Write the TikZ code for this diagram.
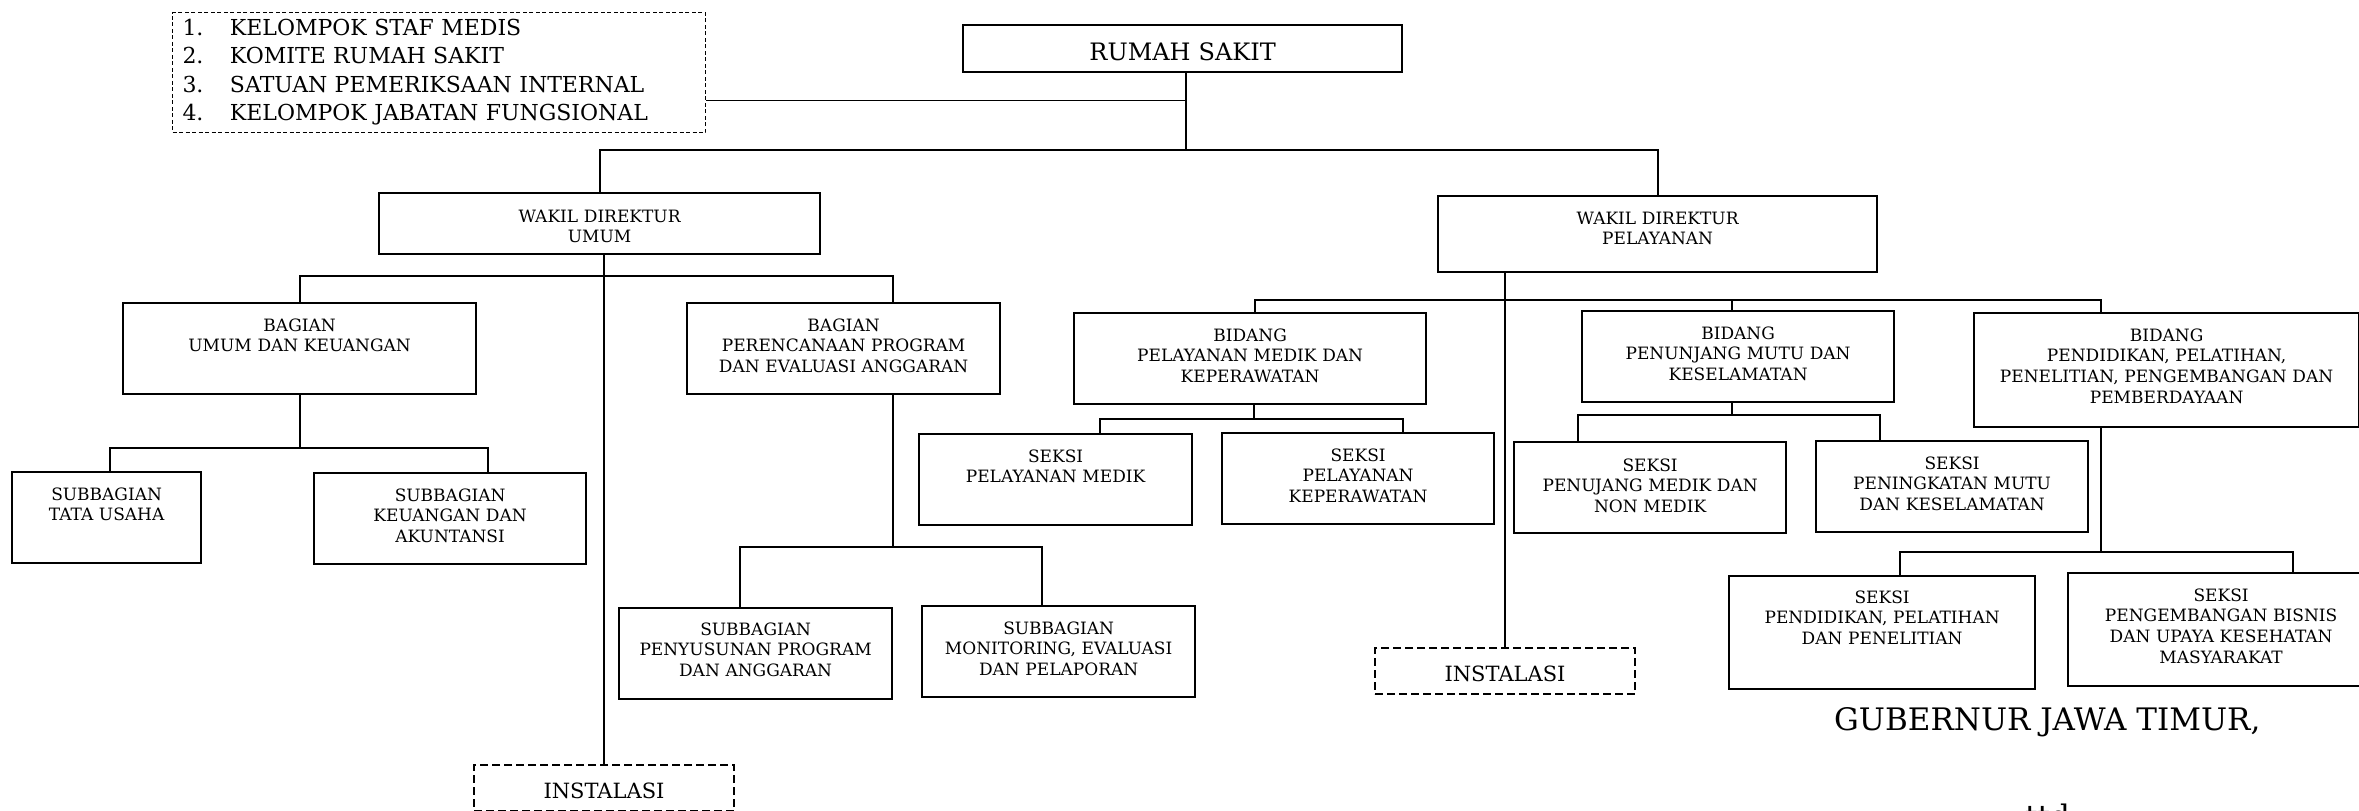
\documentclass[tikz,border=0pt]{standalone}
\usepackage{fontspec}
\setmainfont{DejaVu Serif}
\usepackage{tikz}

\begin{document}
\begin{tikzpicture}[x=1pt,y=-1pt,
  unitbox/.style={draw,line width=2.2pt,anchor=north west,align=center,inner sep=0pt,font=\fontsize{17}{20.7}\selectfont},
  instbox/.style={draw,dash pattern=on 8pt off 4pt,line width=2pt,anchor=north west,align=center,inner sep=0pt,font=\fontsize{21}{25}\selectfont,text width=260pt,text height=33pt,text depth=13pt},
  conn/.style={line width=1.8pt},
  thinconn/.style={line width=1.1pt}]
\useasboundingbox (0,0) rectangle (2359,811);
% top level
\node[draw,dash pattern=on 4pt off 2.5pt,line width=1pt,anchor=north west,align=left,inner xsep=10pt,inner ysep=0pt,text width=513pt,text height=23pt,text depth=97pt,font=\fontsize{22}{28.3}\selectfont] (legend) at (172,12) {\makebox[47.5pt][l]{1.}KELOMPOK STAF MEDIS\\\makebox[47.5pt][l]{2.}KOMITE RUMAH SAKIT\\\makebox[47.5pt][l]{3.}SATUAN PEMERIKSAAN INTERNAL\\\makebox[47.5pt][l]{4.}KELOMPOK JABATAN FUNGSIONAL};
\node[unitbox,text width=439pt,text height=35pt,text depth=12pt,font=\fontsize{24}{28}\selectfont] (rs) at (962,24) {RUMAH SAKIT};
\node[unitbox,text width=441pt,text height=29pt,text depth=32pt] (wdu) at (378,192) {WAKIL DIREKTUR\\UMUM};
\node[unitbox,text width=439pt,text height=28pt,text depth=48pt] (wdp) at (1437,195) {WAKIL DIREKTUR\\PELAYANAN};
% wakil direktur umum
\node[unitbox,text width=353pt,text height=28pt,text depth=63pt] (buk) at (122,302) {BAGIAN\\UMUM DAN KEUANGAN};
\node[unitbox,text width=313pt,text height=28pt,text depth=63pt] (bpp) at (686,302) {BAGIAN\\PERENCANAAN PROGRAM\\DAN EVALUASI ANGGARAN};
\node[unitbox,text width=189pt,text height=28pt,text depth=63pt] (stu) at (11,471) {SUBBAGIAN\\TATA USAHA};
\node[unitbox,text width=272pt,text height=28pt,text depth=63pt] (ska) at (313,472) {SUBBAGIAN\\KEUANGAN DAN\\AKUNTANSI};
\node[unitbox,text width=273pt,text height=27pt,text depth=64pt] (spa) at (618,607) {SUBBAGIAN\\PENYUSUNAN PROGRAM\\DAN ANGGARAN};
\node[unitbox,text width=273pt,text height=28pt,text depth=63pt] (smo) at (921,605) {SUBBAGIAN\\MONITORING, EVALUASI\\DAN PELAPORAN};
\node[instbox] (ins1) at (473,764) {INSTALASI};
% wakil direktur pelayanan
\node[unitbox,text width=352pt,text height=28pt,text depth=63pt] (bpmk) at (1073,312) {BIDANG\\PELAYANAN MEDIK DAN\\KEPERAWATAN};
\node[unitbox,text width=312pt,text height=28pt,text depth=63pt] (bpm) at (1581,310) {BIDANG\\PENUNJANG MUTU DAN\\KESELAMATAN};
\node[unitbox,text width=385pt,text height=28pt,text depth=86pt] (bpen) at (1973,312) {BIDANG\\PENDIDIKAN, PELATIHAN,\\PENELITIAN, PENGEMBANGAN DAN\\PEMBERDAYAAN};
\node[unitbox,text width=273pt,text height=28pt,text depth=63pt] (spm) at (918,433) {SEKSI\\PELAYANAN MEDIK};
\node[unitbox,text width=272pt,text height=28pt,text depth=63pt] (spk) at (1221,432) {SEKSI\\PELAYANAN\\KEPERAWATAN};
\node[unitbox,text width=272pt,text height=29pt,text depth=62pt] (spnm) at (1513,441) {SEKSI\\PENUJANG MEDIK DAN\\NON MEDIK};
\node[unitbox,text width=272pt,text height=28pt,text depth=63pt] (spmk) at (1815,440) {SEKSI\\PENINGKATAN MUTU\\DAN KESELAMATAN};
\node[unitbox,text width=306pt,text height=27pt,text depth=86pt] (sppp) at (1728,575) {SEKSI\\PENDIDIKAN, PELATIHAN\\DAN PENELITIAN};
\node[unitbox,text width=306pt,text height=28pt,text depth=85pt] (spbu) at (2067,572) {SEKSI\\PENGEMBANGAN BISNIS\\DAN UPAYA KESEHATAN\\MASYARAKAT};
\node[instbox] (ins2) at (1374,647) {INSTALASI};
% signature
\node[anchor=base west,inner sep=0pt,font=\fontsize{31}{36}\selectfont] (gub) at (1834,730) {GUBERNUR JAWA TIMUR,};
\node[anchor=base west,inner sep=0pt,font=\fontsize{31}{36}\selectfont] (ttd) at (2025,827) {ttd};
% lines
\draw[conn] ([xshift=3.5pt]rs.south) -- ++(0,77) coordinate (rsbus);
\draw[conn] ([yshift=-28pt]legend.east) -- ([yshift=-28pt]legend.east -| rsbus);
\draw[conn] (wdu.north) |- (rsbus) -| (wdp.north);
\draw[conn] (buk.north) -- ++(0,-26) -| ([xshift=49pt]bpp.north);
\draw[thinconn] (ins1.north) -- (ins1.north |- wdu.south);
\draw[conn] (buk.south) -- ++(0,53) coordinate (bukbus);
\draw[conn] ([xshift=3pt]stu.north) |- (bukbus) -| ([xshift=37.5pt]ska.north);
\draw[conn] ([xshift=49pt]bpp.south) -- ++(0,152) coordinate (bppbus);
\draw[conn] ([xshift=-16pt]spa.north) |- (bppbus) -| ([xshift=-17pt]smo.north);
\draw[thinconn] (ins2.north) -- (ins2.north |- wdp.south);
\draw[conn] ([xshift=5pt]bpmk.north) -- ++(0,-12) coordinate (wdpbus) -| ([xshift=-66pt]bpen.north);
\draw[conn] ([xshift=-6pt]bpm.north) -- ([xshift=-6pt]bpm.north |- wdpbus);
\draw[conn] ([xshift=4pt]bpmk.south) -- ++(0,14) coordinate (bpmkbus);
\draw[conn] ([xshift=44.5pt]spm.north) |- (bpmkbus) -| ([xshift=45pt]spk.north);
\draw[conn] ([xshift=-6pt]bpm.south) -- ++(0,12) coordinate (bpmbus);
\draw[conn] ([xshift=-72pt]spnm.north) |- (bpmbus) -| ([xshift=-72pt]spmk.north);
\draw[conn] ([xshift=-66pt]bpen.south) -- ++(0,124) coordinate (bpenbus);
\draw[conn] ([xshift=17.5pt]sppp.north) |- (bpenbus) -| ([xshift=72pt]spbu.north);
\end{tikzpicture}
\end{document}
